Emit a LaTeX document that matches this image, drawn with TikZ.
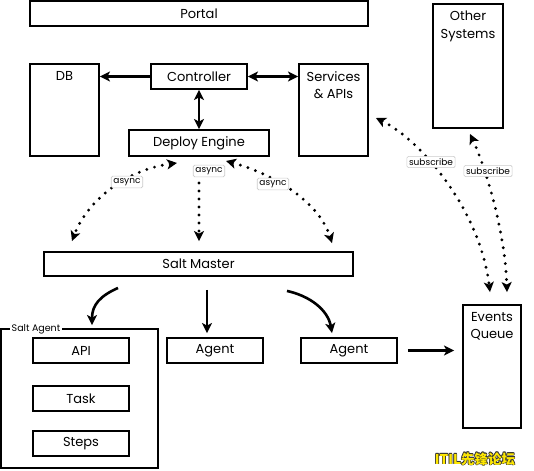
\documentclass[tikz,border=0pt]{standalone}
\usepackage{fontspec}
\setmainfont{Poppins}
\newfontfamily\cjk{Noto Sans CJK SC}
\usetikzlibrary{arrows.meta,calc}
\tikzset{
  box/.style={draw=black,line width=1.9pt,fill=white,inner sep=0pt,font=\fontsize{13}{17.5}\selectfont,align=center},
  tallbox/.style={draw=black,line width=1.9pt,fill=white,inner sep=0pt},
  toptext/.style={anchor=north,inner sep=0pt,font=\fontsize{13}{17.5}\selectfont,align=center},
  tag/.style={draw=black!20,line width=0.6pt,fill=white,rounded corners=1.5pt,inner sep=2.2pt,font=\fontsize{9}{10}\selectfont},
  tip/.tip={Stealth[length=10pt,width=10pt,inset=2.5pt]},
  arr/.style={line width=2.6pt,-tip},
  darr/.style={line width=2.6pt,tip-tip},
  dots/.style={line width=3.2pt,line cap=round,dash pattern=on 0pt off 8pt},
  dotarr/.style={dots,-tip},
  dotdarr/.style={dots,tip-tip},
  wm/.style={inner sep=0pt,font=\cjk\bfseries\fontsize{13.5}{14}\selectfont}
}
\begin{document}
\begin{tikzpicture}[x=1pt,y=-1pt]
\useasboundingbox[fill=white] (0,0) rectangle (534,470);

% top boxes
\node[box,minimum width=338pt,minimum height=25pt] (portal) at (199,13.5) {Portal};
\node[tallbox,minimum width=70pt,minimum height=124pt,
      label={[toptext,yshift=-8pt]north:Other\\Systems}] (other) at (468,66) {};
\node[tallbox,minimum width=69pt,minimum height=92pt,
      label={[toptext,yshift=-8pt]north:DB}] (db) at (64.5,110) {};
\node[box,minimum width=96pt,minimum height=25pt] (ctrl) at (199,76.5) {Controller};
\node[tallbox,minimum width=69pt,minimum height=92pt,
      label={[toptext,yshift=-8pt]north:Services\\\& APIs}] (svc) at (333.5,110) {};
\node[box,minimum width=140pt,minimum height=26pt] (deploy) at (199,143) {Deploy Engine};

% middle
\node[box,minimum width=309pt,minimum height=24pt] (master) at (198.5,264) {Salt Master};

% salt agent group
\draw[line width=1.9pt] (1,329) rectangle (158,468);
\node[anchor=west,fill=white,inner sep=1.5pt,font=\fontsize{9.5}{10}\selectfont] (grp) at (10,329) {Salt Agent};
\node[box,minimum width=96pt,minimum height=25pt] (api) at (81,350.5) {API};
\node[box,minimum width=96pt,minimum height=25pt] (task) at (81,398.5) {Task};
\node[box,minimum width=96pt,minimum height=25pt] (steps) at (81,443.5) {Steps};
\node[box,minimum width=96pt,minimum height=25pt] (agent1) at (215,350.5) {Agent};
\node[box,minimum width=96pt,minimum height=25pt] (agent2) at (349,350.5) {Agent};
\node[tallbox,minimum width=58pt,minimum height=123pt,
      label={[toptext,yshift=-8pt]north:Events\\Queue}] (events) at (492,366.5) {};

% solid connectors
\draw[arr] (ctrl.west) -- (ctrl.west -| db.east);
\draw[darr] (ctrl.east) -- (ctrl.east -| svc.west);
\draw[darr] (ctrl.south) -- (deploy.north);
\draw[arr] ($(agent2.east)+(10,0)$) -- ($(agent2.east -| events.west)+(-8,0)$);

% master to agents
\draw[arr] ($(master.south)+(-80.5,11)$) .. controls +(-18,8) and +(0,-20) .. ($(api.north)+(11,-12)$);
\draw[arr] ($(master.south)+(8.5,13)$) -- ($(agent1.north)+(-8,-4)$);
\draw[arr] ($(master.south)+(88.5,14)$) .. controls +(23,5) and +(-4,-23) .. ($(agent2.north)+(-17,-4)$);

% async connectors
\draw[dotdarr] ($(deploy.south)+(-22,6)$) .. controls +(-57,8) and +(13,-35) .. ($(master.north)+(-126.5,-10)$);
\draw[dotarr] ($(deploy.south)+(0,10)$) -- ($(master.north)+(0.5,-10)$);
\draw[dotdarr] ($(deploy.south)+(27,4)$) .. controls +(54,15) and +(-12,-38) .. ($(master.north)+(133.5,-8)$);
\node[tag] (as1) at (127,182) {async};
\node[tag] (as2) at (209,171) {async};
\node[tag] (as3) at (273,184) {async};

% subscribe connectors
\draw[dotdarr] ($(svc.east)+(7,8)$) .. controls +(45,22) and +(-10,-82) .. ($(events.north)+(-2,-12)$);
\draw[dotdarr] ($(other.south)+(2,5)$) .. controls +(15,32) and +(-2,-62) .. ($(events.north)+(15,-12)$);
\node[tag] (sub1) at (431,162) {subscribe};
\node[tag] (sub2) at (488,171) {subscribe};

% watermark
\foreach \dx/\dy [count=\i] in {-0.6/0,0.6/0,0/-0.6,0/0.6,-0.45/-0.45,0.45/0.45,-0.45/0.45,0.45/-0.45}
  \node[wm,text=black!80] (wmk\i) at ($(475,459)+(\dx,\dy)$) {ITIL先锋论坛};
\node[wm,text=yellow!90!orange] (wmk) at (475,459) {ITIL先锋论坛};
\end{tikzpicture}
\end{document}
